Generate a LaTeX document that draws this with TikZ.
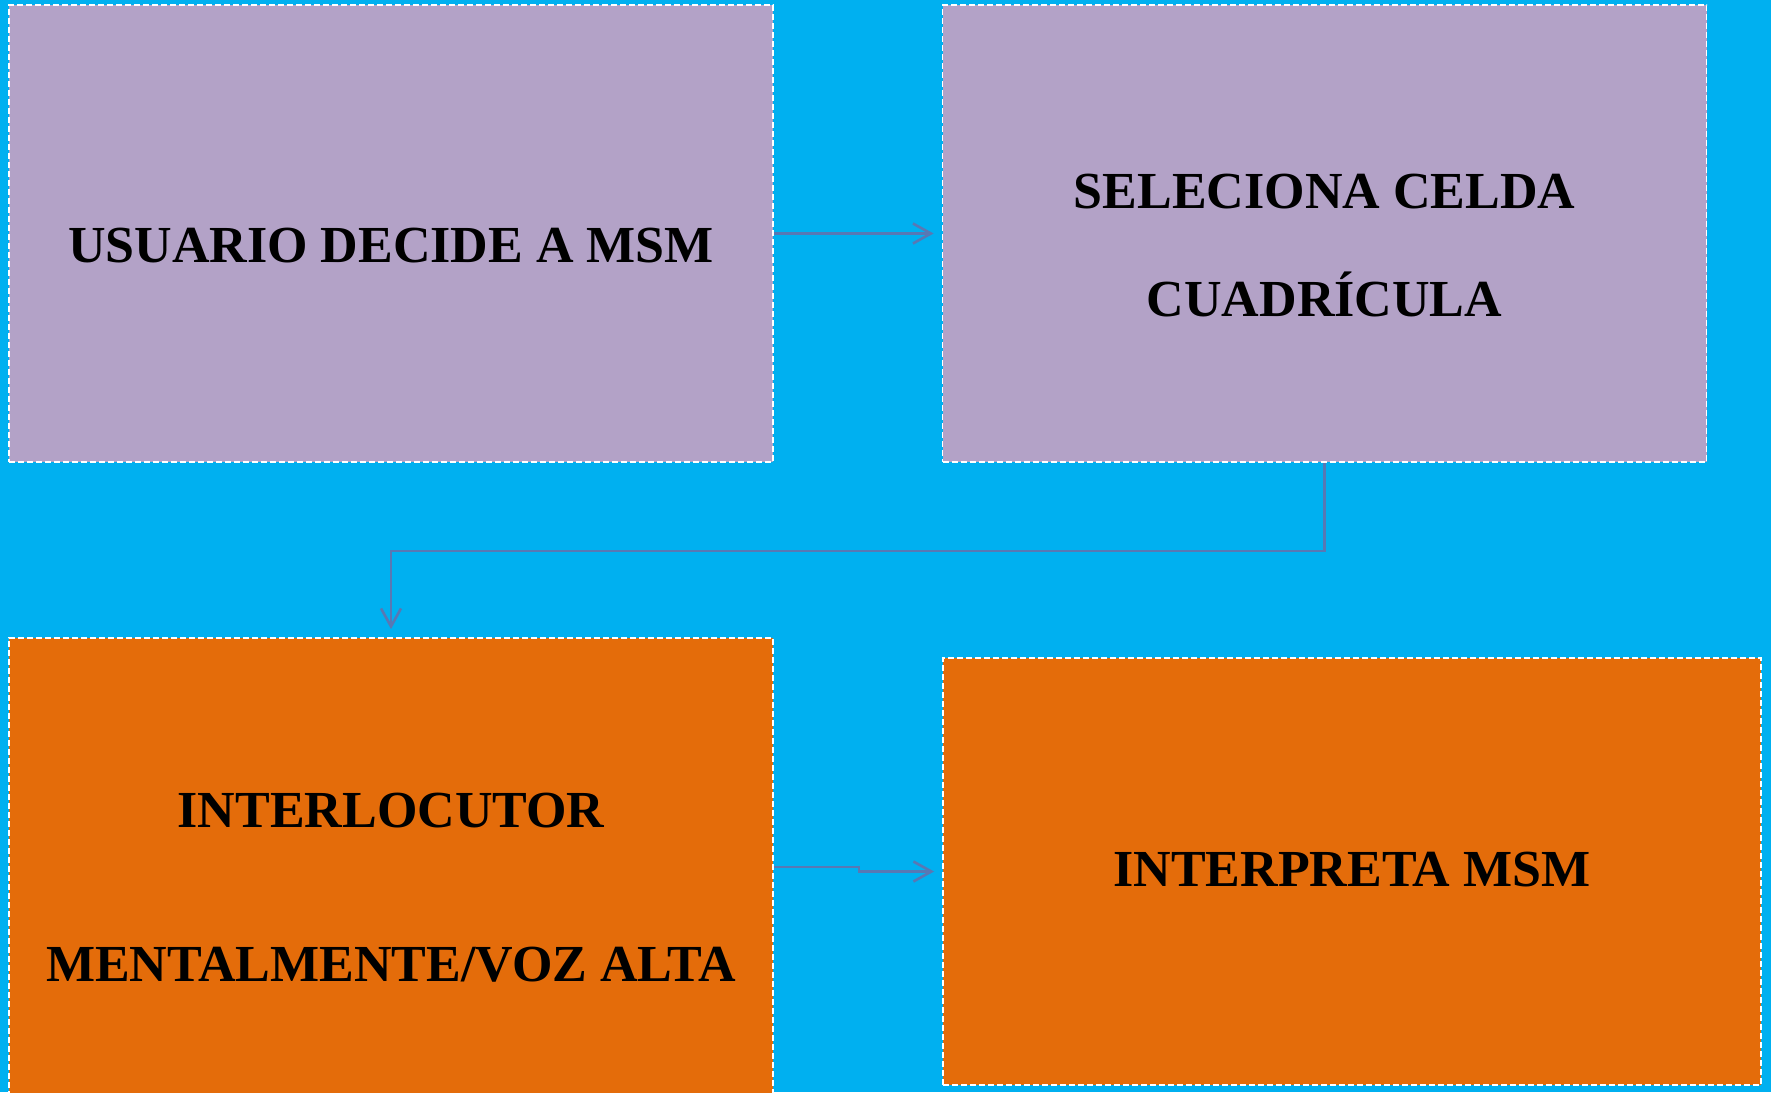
\documentclass[tikz,border=0pt]{standalone}
\usepackage{fontspec}
\setmainfont{Liberation Serif}
\usetikzlibrary{arrows.meta}
\definecolor{skyback}{RGB}{0,176,240}
\definecolor{lilac}{RGB}{179,162,199}
\definecolor{rust}{RGB}{228,108,10}
\definecolor{flowline}{RGB}{88,120,180}
\begin{document}
\begin{tikzpicture}[x=0.5pt, y=-0.5pt,
    box/.style={rectangle, draw=white, line width=0.9pt, dash pattern=on 3pt off 1.5pt, inner sep=0pt},
    lbl/.style={anchor=base, inner sep=0pt, font=\fontsize{26pt}{26pt}\selectfont\bfseries},
    flow/.style={draw=flowline, line width=1.3pt, -{Straight Barb[length=9pt, width=10pt]}, shorten >=4pt}]
                \useasboundingbox (0,0) rectangle (1771,1092);
                \fill[skyback] (0,0) rectangle (1771,1092);

                \node[box, fill=lilac, minimum width=382pt, minimum height=228.5pt] (decide) at (391,233.5) {};
                \node[box, fill=lilac, minimum width=382pt, minimum height=228.5pt] (selecciona) at (1324.5,233.5) {};
                \node[box, fill=rust, minimum width=382pt, minimum height=229pt] (interlocutor) at (391,867) {};
                \node[box, fill=rust, minimum width=409pt, minimum height=213.5pt] (interpreta) at (1352,871.5) {};

                \node[lbl] (decidetxt) at (391,262) {USUARIO DECIDE A MSM};
                \node[lbl] (seltxta) at (1324.5,208) {SELECIONA CELDA};
                \node[lbl] (seltxtb) at (1324.5,316) {CUADRÍCULA};
                \node[lbl] (inttxta) at (391,827) {INTERLOCUTOR};
                \node[lbl] (inttxtb) at (391,981) {MENTALMENTE/VOZ ALTA};
                \node[lbl] (interptxt) at (1352,886) {INTERPRETA MSM};

                \draw[flow] (decide.east) -- (selecciona.west);
                \draw[flow] (selecciona.south) -- ++(0,88) -| (interlocutor.north);
                \draw[flow] (interlocutor.east) -- ++(85,0) |- (interpreta.west);
            \end{tikzpicture}
\end{document}
